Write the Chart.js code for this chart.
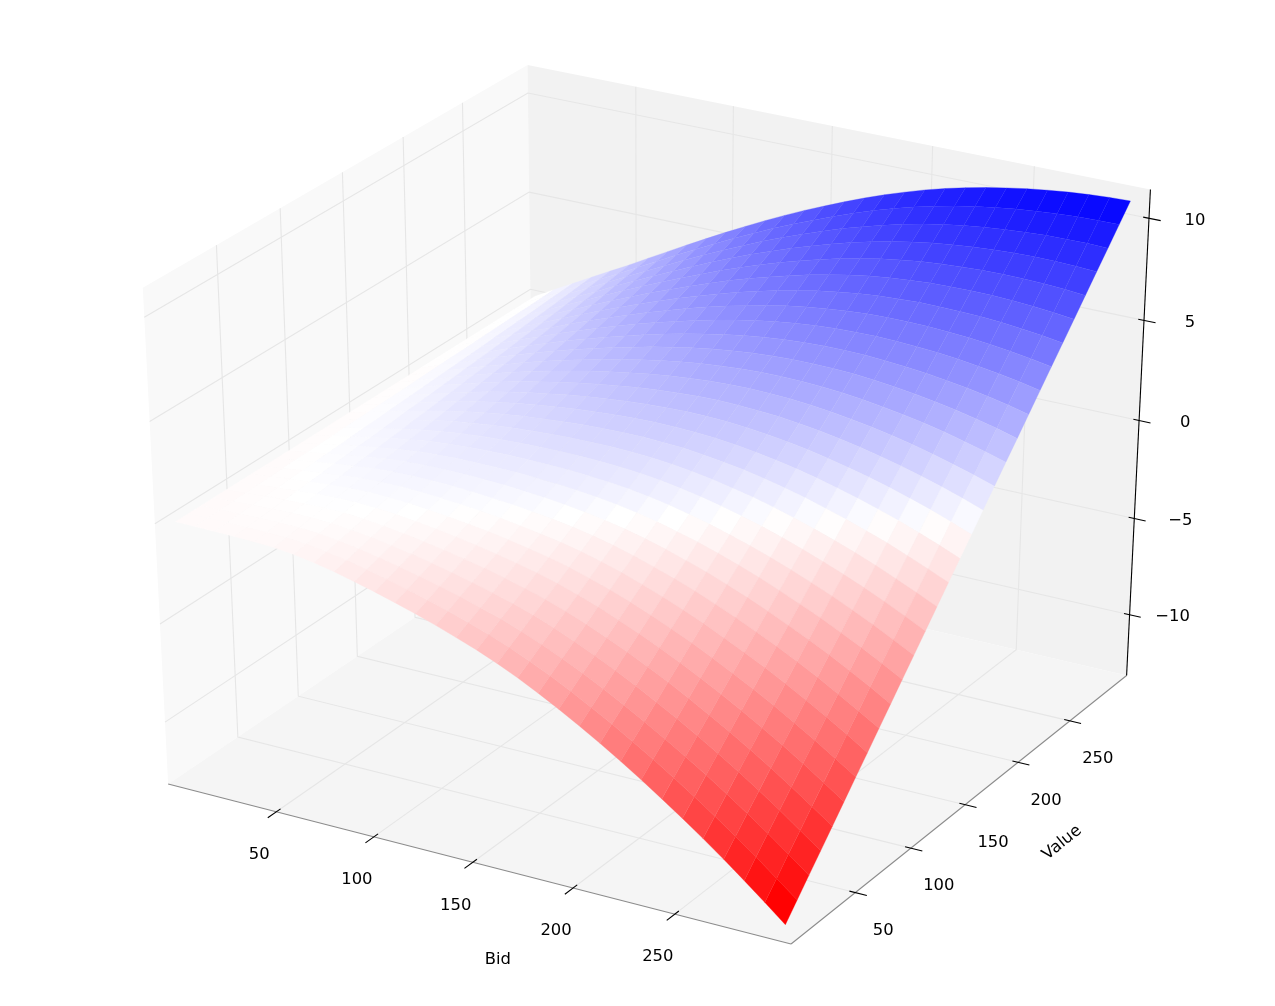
<!DOCTYPE html>
<html>
<head>
<meta charset="utf-8">
<title>Bid / Value surface</title>
<script src="https://cdn.jsdelivr.net/npm/chart.js@4/dist/chart.umd.min.js"></script>
<style>
	html, body { margin: 0; padding: 0; background: #fff; }
	#wrap { width: 1275px; height: 1006px; }
</style>
</head>
<body>
<div id="wrap"><canvas id="surface" width="1275" height="1006"></canvas></div>
<script>
const bids = [0, 10, 20, 30, 40, 50, 60, 70, 80, 90, 100, 110, 120, 130, 140, 150, 160, 170, 180, 190, 200, 210, 220, 230, 240, 250, 260, 270, 280, 290, 300];
const values = [0, 10, 20, 30, 40, 50, 60, 70, 80, 90, 100, 110, 120, 130, 140, 150, 160, 170, 180, 190, 200, 210, 220, 230, 240, 250, 260, 270, 280, 290, 300];
const bidTicks = [50, 100, 150, 200, 250];
const valueTicks = [50, 100, 150, 200, 250];
const zTicks = [-10, -5, 0, 5, 10];

// one row per bid, one column per value
const profit = [
	[0,0,0,0,0,0,0,0,0,0,0,0,0,0,0,0,0,0,0,0,0,0,0,0,0,0,0,0,0,0,0],
	[-0.01,0.01,0.03,0.05,0.06,0.08,0.10,0.12,0.14,0.16,0.17,0.19,0.21,0.23,0.25,0.27,0.28,0.30,0.32,0.34,0.36,0.38,0.39,0.41,0.43,0.45,0.47,0.49,0.50,0.52,0.54],
	[-0.02,0.02,0.05,0.09,0.13,0.16,0.20,0.23,0.27,0.31,0.34,0.38,0.42,0.45,0.49,0.53,0.56,0.60,0.63,0.67,0.71,0.74,0.78,0.82,0.85,0.89,0.92,0.96,1.00,1.03,1.07],
	[-0.04,0.01,0.07,0.12,0.18,0.23,0.29,0.34,0.40,0.45,0.51,0.56,0.62,0.67,0.73,0.78,0.83,0.89,0.94,1.00,1.05,1.11,1.16,1.22,1.27,1.33,1.38,1.44,1.49,1.55,1.60],
	[-0.07,0.00,0.08,0.15,0.22,0.30,0.37,0.44,0.52,0.59,0.66,0.74,0.81,0.88,0.96,1.03,1.10,1.18,1.25,1.32,1.40,1.47,1.54,1.62,1.69,1.76,1.84,1.91,1.98,2.06,2.13],
	[-0.12,-0.03,0.06,0.16,0.25,0.34,0.43,0.53,0.62,0.71,0.80,0.90,0.99,1.08,1.17,1.27,1.36,1.45,1.54,1.63,1.73,1.82,1.91,2.00,2.10,2.19,2.28,2.37,2.47,2.56,2.65],
	[-0.23,-0.12,0.00,0.11,0.23,0.34,0.46,0.57,0.68,0.80,0.91,1.03,1.14,1.26,1.37,1.49,1.60,1.71,1.83,1.94,2.06,2.17,2.29,2.40,2.51,2.63,2.74,2.86,2.97,3.09,3.20],
	[-0.40,-0.26,-0.12,0.01,0.15,0.29,0.43,0.57,0.70,0.84,0.98,1.12,1.26,1.39,1.53,1.67,1.81,1.95,2.08,2.22,2.36,2.50,2.64,2.77,2.91,3.05,3.19,3.33,3.46,3.60,3.74],
	[-0.61,-0.45,-0.28,-0.12,0.04,0.21,0.37,0.53,0.69,0.86,1.02,1.18,1.35,1.51,1.67,1.84,2.00,2.16,2.32,2.49,2.65,2.81,2.98,3.14,3.30,3.47,3.63,3.79,3.95,4.12,4.28],
	[-0.86,-0.67,-0.48,-0.29,-0.10,0.09,0.27,0.46,0.65,0.84,1.03,1.22,1.41,1.60,1.79,1.98,2.16,2.35,2.54,2.73,2.92,3.11,3.30,3.49,3.68,3.87,4.05,4.24,4.43,4.62,4.81],
	[-1.13,-0.91,-0.70,-0.48,-0.27,-0.05,0.16,0.38,0.59,0.81,1.02,1.24,1.45,1.67,1.88,2.10,2.32,2.53,2.75,2.96,3.18,3.39,3.61,3.82,4.04,4.25,4.47,4.68,4.90,5.11,5.33],
	[-1.42,-1.18,-0.94,-0.69,-0.45,-0.21,0.03,0.27,0.51,0.76,1.00,1.24,1.48,1.72,1.96,2.21,2.45,2.69,2.93,3.17,3.41,3.66,3.90,4.14,4.38,4.62,4.86,5.11,5.35,5.59,5.83],
	[-1.73,-1.46,-1.19,-0.93,-0.66,-0.39,-0.12,0.15,0.42,0.68,0.95,1.22,1.49,1.76,2.03,2.30,2.56,2.83,3.10,3.37,3.64,3.91,4.17,4.44,4.71,4.98,5.25,5.52,5.78,6.05,6.32],
	[-2.06,-1.77,-1.47,-1.18,-0.88,-0.59,-0.29,0.00,0.30,0.60,0.89,1.19,1.48,1.78,2.07,2.37,2.66,2.96,3.25,3.55,3.84,4.14,4.43,4.73,5.02,5.32,5.61,5.91,6.20,6.50,6.79],
	[-2.42,-2.10,-1.78,-1.45,-1.13,-0.81,-0.49,-0.17,0.16,0.48,0.80,1.12,1.44,1.77,2.09,2.41,2.73,3.05,3.38,3.70,4.02,4.34,4.66,4.99,5.31,5.63,5.95,6.27,6.60,6.92,7.24],
	[-2.79,-2.44,-2.09,-1.75,-1.40,-1.05,-0.70,-0.35,0.00,0.34,0.69,1.04,1.39,1.74,2.09,2.44,2.78,3.13,3.48,3.83,4.18,4.53,4.87,5.22,5.57,5.92,6.27,6.62,6.96,7.31,7.66],
	[-3.21,-2.83,-2.46,-2.08,-1.71,-1.33,-0.95,-0.58,-0.20,0.17,0.55,0.93,1.30,1.68,2.05,2.43,2.81,3.18,3.56,3.93,4.31,4.69,5.06,5.44,5.81,6.19,6.57,6.94,7.32,7.69,8.07],
	[-3.68,-3.28,-2.87,-2.47,-2.06,-1.66,-1.25,-0.85,-0.44,-0.04,0.37,0.77,1.18,1.58,1.99,2.39,2.79,3.20,3.60,4.01,4.41,4.82,5.22,5.63,6.03,6.44,6.84,7.25,7.65,8.06,8.46],
	[-4.19,-3.76,-3.32,-2.89,-2.46,-2.02,-1.59,-1.15,-0.72,-0.29,0.15,0.58,1.01,1.45,1.88,2.32,2.75,3.18,3.62,4.05,4.48,4.92,5.35,5.78,6.22,6.65,7.09,7.52,7.95,8.39,8.82],
	[-4.74,-4.28,-3.81,-3.35,-2.89,-2.43,-1.96,-1.50,-1.04,-0.57,-0.11,0.35,0.82,1.28,1.74,2.21,2.67,3.13,3.59,4.06,4.52,4.98,5.45,5.91,6.37,6.84,7.30,7.76,8.22,8.69,9.15],
	[-5.32,-4.83,-4.33,-3.84,-3.35,-2.86,-2.36,-1.87,-1.38,-0.89,-0.39,0.10,0.59,1.08,1.58,2.07,2.56,3.06,3.55,4.04,4.53,5.03,5.52,6.01,6.50,7.00,7.49,7.98,8.47,8.97,9.46],
	[-5.93,-5.41,-4.89,-4.36,-3.84,-3.32,-2.80,-2.28,-1.75,-1.23,-0.71,-0.19,0.33,0.86,1.38,1.90,2.42,2.94,3.47,3.99,4.51,5.03,5.55,6.08,6.60,7.12,7.64,8.16,8.69,9.21,9.73],
	[-6.57,-6.02,-5.47,-4.92,-4.36,-3.81,-3.26,-2.71,-2.16,-1.61,-1.06,-0.51,0.05,0.60,1.15,1.70,2.25,2.80,3.35,3.91,4.46,5.01,5.56,6.11,6.66,7.21,7.77,8.32,8.87,9.42,9.97],
	[-7.24,-6.66,-6.08,-5.50,-4.92,-4.34,-3.76,-3.18,-2.59,-2.01,-1.43,-0.85,-0.27,0.31,0.89,1.47,2.05,2.63,3.21,3.79,4.37,4.95,5.53,6.12,6.70,7.28,7.86,8.44,9.02,9.60,10.18],
	[-7.94,-7.33,-6.72,-6.11,-5.50,-4.89,-4.28,-3.67,-3.06,-2.45,-1.84,-1.23,-0.62,-0.01,0.60,1.21,1.82,2.43,3.04,3.65,4.26,4.87,5.48,6.09,6.70,7.31,7.92,8.53,9.14,9.75,10.36],
	[-8.66,-8.02,-7.38,-6.74,-6.10,-5.46,-4.82,-4.18,-3.54,-2.91,-2.27,-1.63,-0.99,-0.35,0.29,0.93,1.57,2.21,2.85,3.49,4.13,4.77,5.41,6.04,6.68,7.32,7.96,8.60,9.24,9.88,10.52],
	[-9.41,-8.74,-8.07,-7.40,-6.74,-6.07,-5.40,-4.73,-4.06,-3.39,-2.72,-2.05,-1.39,-0.72,-0.05,0.62,1.29,1.96,2.63,3.30,3.96,4.63,5.30,5.97,6.64,7.31,7.98,8.65,9.31,9.98,10.65],
	[-10.19,-9.49,-8.79,-8.09,-7.40,-6.70,-6.00,-5.30,-4.60,-3.90,-3.21,-2.51,-1.81,-1.11,-0.41,0.29,0.98,1.68,2.38,3.08,3.78,4.48,5.17,5.87,6.57,7.27,7.97,8.67,9.36,10.06,10.76],
	[-11.00,-10.27,-9.54,-8.82,-8.09,-7.36,-6.63,-5.90,-5.18,-4.45,-3.72,-2.99,-2.26,-1.54,-0.81,-0.08,0.65,1.38,2.10,2.83,3.56,4.29,5.02,5.74,6.47,7.20,7.93,8.66,9.38,10.11,10.84],
	[-11.84,-11.08,-10.32,-9.57,-8.81,-8.05,-7.29,-6.53,-5.78,-5.02,-4.26,-3.50,-2.74,-1.99,-1.23,-0.47,0.29,1.05,1.80,2.56,3.32,4.08,4.84,5.59,6.35,7.11,7.87,8.63,9.38,10.14,10.90],
	[-12.70,-11.91,-11.12,-10.34,-9.55,-8.76,-7.97,-7.19,-6.40,-5.61,-4.82,-4.04,-3.25,-2.46,-1.67,-0.89,-0.10,0.69,1.48,2.27,3.05,3.84,4.63,5.42,6.20,6.99,7.78,8.57,9.35,10.14,10.93]
];

// limits of the 3d box
const bidLim = [-6.25, 306.25];
const valueLim = [-6.25, 306.25];
const zLim = [-13.21, 11.39];

// camera looks from elev 30, azim -60, distance 10
const dist = 10;
const camU = [0.866025, 0.5, 0];
const camV = [-0.25, 0.433013, 0.866025];
const camW = [0.433013, -0.75, 0.5];

function dot(a, b) {
	return a[0] * b[0] + a[1] * b[1] + a[2] * b[2];
}

// t, s, h run from 0 to 1 across the box
function project(t, s, h) {
	const d = [t - 0.5, s - 0.5, h - 0.5];
	const depth = dist - dot(camW, d);
	return { x: dot(camU, d) / depth, y: dot(camV, d) / depth, depth: depth };
}

const toT = (b) => (b - bidLim[0]) / (bidLim[1] - bidLim[0]);
const toS = (v) => (v - valueLim[0]) / (valueLim[1] - valueLim[0]);
const toH = (z) => (z - zLim[0]) / (zLim[1] - zLim[0]);

const flat = (pts) => pts.map(p => ({ x: p.x, y: p.y }));

function shape(pts, color, edge) {
	return {
		data: flat(pts.concat([pts[0]])),
		showLine: true,
		fill: 'shape',
		backgroundColor: color,
		borderColor: color,
		borderWidth: edge,
		pointRadius: 0,
		tension: 0
	};
}

function stroke(pts, color, width) {
	return {
		data: flat(pts),
		showLine: true,
		fill: false,
		borderColor: color,
		borderWidth: width,
		pointRadius: 0,
		tension: 0
	};
}

// white sits a little above zero, red and blue at the ends
const whiteAt = 0.25;
const redAt = -12.0;
const blueAt = 10.9;
function cellColor(z) {
	let k = z < whiteAt ? (whiteAt - z) / (whiteAt - redAt) : (z - whiteAt) / (blueAt - whiteAt);
	k = Math.min(1, k);
	const c = Math.round(255 * (1 - k));
	return z < whiteAt ? `rgb(255,${c},${c})` : `rgb(${c},${c},255)`;
}

const drawList = [];

// panes
drawList.push(shape([project(0, 0, 0), project(0, 1, 0), project(0, 1, 1), project(0, 0, 1)], '#f9f9f9', 0));
drawList.push(shape([project(0, 1, 0), project(1, 1, 0), project(1, 1, 1), project(0, 1, 1)], '#f2f2f2', 0));
drawList.push(shape([project(0, 0, 0), project(1, 0, 0), project(1, 1, 0), project(0, 1, 0)], '#f5f5f5', 0));

// grid
const gridColor = '#e6e6e6';
bidTicks.forEach(b => {
	const t = toT(b);
	drawList.push(stroke([project(t, 0, 0), project(t, 1, 0), project(t, 1, 1)], gridColor, 1.1));
});
valueTicks.forEach(v => {
	const s = toS(v);
	drawList.push(stroke([project(1, s, 0), project(0, s, 0), project(0, s, 1)], gridColor, 1.1));
});
zTicks.forEach(z => {
	const h = toH(z);
	drawList.push(stroke([project(0, 0, h), project(0, 1, h), project(1, 1, h)], gridColor, 1.1));
});

// surface cells, far ones first
const cells = [];
for (let i = 0; i < bids.length - 1; i++) {
	for (let j = 0; j < values.length - 1; j++) {
		const corners = [[i, j], [i + 1, j], [i + 1, j + 1], [i, j + 1]];
		const pts = corners.map(c => project(toT(bids[c[0]]), toS(values[c[1]]), toH(profit[c[0]][c[1]])));
		const meanZ = corners.reduce((sum, c) => sum + profit[c[0]][c[1]], 0) / 4;
		const meanDepth = pts.reduce((sum, p) => sum + p.depth, 0) / 4;
		cells.push({ pts: pts, meanZ: meanZ, meanDepth: meanDepth });
	}
}
cells.sort((a, b) => b.meanDepth - a.meanDepth);
cells.forEach(c => drawList.push(shape(c.pts, cellColor(c.meanZ), 0.3)));

// axis lines
drawList.push(stroke([project(0, 0, 0), project(1, 0, 0)], '#8c8c8c', 1.1));
drawList.push(stroke([project(1, 0, 0), project(1, 1, 0)], '#8c8c8c', 1.1));
drawList.push(stroke([project(1, 1, 0), project(1, 1, 1)], '#000000', 1.1));

// tick marks
bidTicks.forEach(b => {
	const t = toT(b);
	drawList.push(stroke([project(t, -0.022, 0), project(t, 0.011, 0)], '#000000', 1.1));
});
valueTicks.forEach(v => {
	const s = toS(v);
	drawList.push(stroke([project(0.991, s, 0), project(1.018, s, 0)], '#000000', 1.1));
});
zTicks.forEach(z => {
	const h = toH(z);
	drawList.push(stroke([project(0.991, 1, h), project(1.018, 1, h)], '#000000', 1.1));
});

// chart.js paints the first dataset last
const datasets = drawList.slice().reverse();

const axisText = {
	id: 'axisText',
	afterDraw(chart) {
		const ctx = chart.ctx;
		const sx = chart.scales.x;
		const sy = chart.scales.y;
		const px = (p) => [sx.getPixelForValue(p.x), sy.getPixelForValue(p.y)];
		ctx.save();
		ctx.fillStyle = '#000';
		ctx.font = '16.4px "DejaVu Sans"';
		ctx.textAlign = 'center';
		ctx.textBaseline = 'middle';
		bidTicks.forEach(b => {
			const [x, y] = px(project(toT(b), 0, 0));
			ctx.fillText(String(b), x - 17, y + 43);
		});
		valueTicks.forEach(v => {
			const [x, y] = px(project(1, toS(v), 0));
			ctx.fillText(String(v), x + 28, y + 38);
		});
		zTicks.forEach(z => {
			const [x, y] = px(project(1, 1, toH(z)));
			const label = z < 0 ? '\u2212' + Math.abs(z) : String(z);
			ctx.fillText(label, x + (z === -10 ? 43 : 46), y + 2.5);
		});
		const bidTitle = px(project(toT(150), 0, 0));
		ctx.fillText('Bid', bidTitle[0] + 25, bidTitle[1] + 97);
		const valueTitle = px(project(1, toS(150), 0));
		ctx.translate(valueTitle[0] + 97, valueTitle[1] + 38);
		ctx.rotate(-39 * Math.PI / 180);
		ctx.fillText('Value', 0, 0);
		ctx.restore();
	}
};

const surfaceChart = new Chart(document.getElementById('surface').getContext('2d'), {
	type: 'scatter',
	data: { datasets: datasets },
	options: {
		responsive: false,
		animation: false,
		devicePixelRatio: 1,
		layout: { padding: 0 },
		plugins: {
			legend: { display: false },
			tooltip: { enabled: false }
		},
		scales: {
			x: { type: 'linear', display: false, min: -0.09107, max: 0.08626 },
			y: { type: 'linear', display: false, min: -0.09114, max: 0.08638 }
		}
	},
	plugins: [axisText]
});
</script>
</body>
</html>
